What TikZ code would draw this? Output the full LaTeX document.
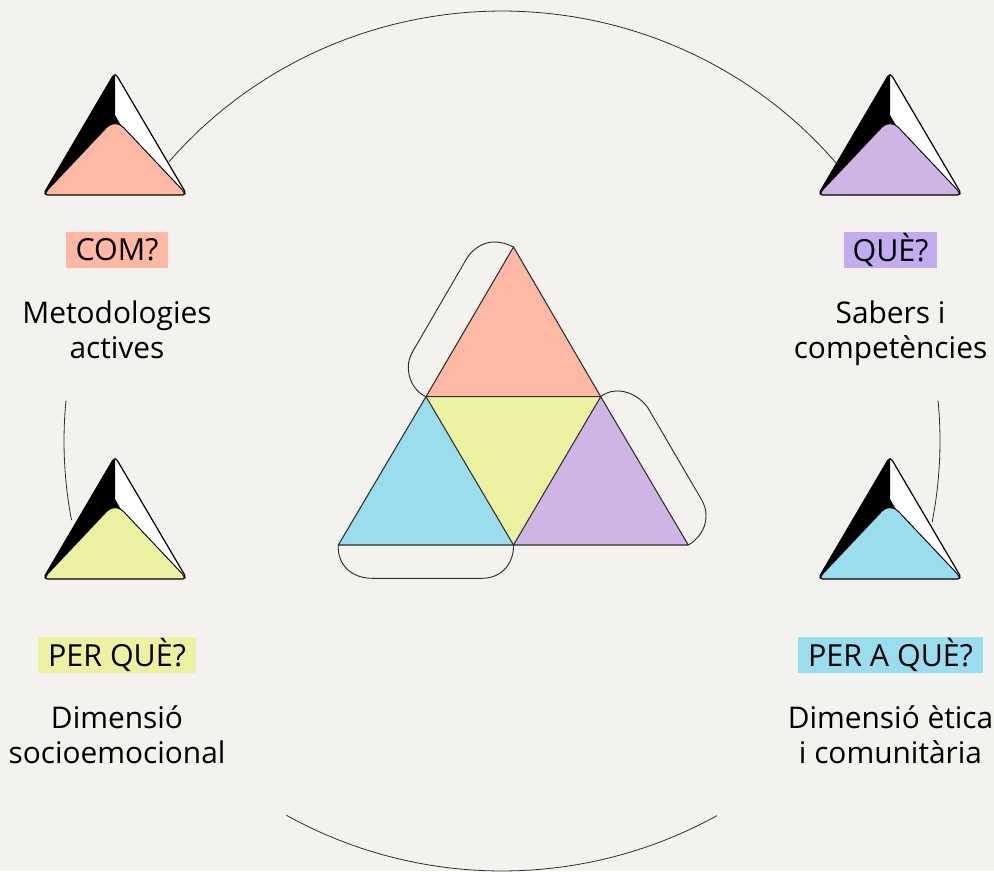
\documentclass[tikz,border=0pt]{standalone}
\usepackage{fontspec}
\setmainfont{Open Sans}
\definecolor{bg}{HTML}{F3F2EE}
\definecolor{salmon}{HTML}{FFB8A3}
\definecolor{lilac}{HTML}{CFB5E5}
\definecolor{lilacb}{HTML}{C3ABEF}
\definecolor{lemon}{HTML}{EDF2A3}
\definecolor{sky}{HTML}{9ADDEE}
\definecolor{ink}{HTML}{2E2E2E}
\tikzset{
  ring/.style={draw=ink,line width=0.6pt},
  face/.style={draw=ink,line width=0.8pt,line join=round},
  flap/.style={draw=ink,line width=0.7pt},
  tag/.style={inner sep=0pt,minimum height=27pt,text=black,font=\fontsize{22.8}{26}\selectfont,anchor=center},
  caption/.style={align=center,text=black,font=\fontsize{22.4}{26.2}\selectfont,anchor=center,inner sep=0pt},
  pics/facet/.style={code={
    \begin{scope}
    \clip[rounded corners=3.5pt] (0,-1.5) -- (72,121) -- (-72,121) -- cycle;
    \fill[white] (-80,-5) rectangle (80,125);
    \fill[black] (0,-5) -- (-80,125) -- (-72,122) -- (8,55) -- (0,41) -- cycle;
    \fill[#1,draw=black,line width=0.7pt,rounded corners=9pt] (-75,124) -- (0,44.5) -- (75,124) -- cycle;
    \end{scope}
    \draw[black,line width=0.9pt,rounded corners=3.5pt] (0,-1.5) -- (72,121) -- (-72,121) -- cycle;
  }}
}
\begin{document}
\begin{tikzpicture}[x=0.75pt,y=-0.75pt]
\path[fill=bg,use as bounding box] (0,0) rectangle (994,871);
% ring arcs
\draw[ring] plot[domain=139.5:40.3,samples=60] ({502+438*cos(\x)},{441-430*sin(\x)});
\draw[ring] plot[domain=174.6:190.6,samples=20] ({502+438*cos(\x)},{441-430*sin(\x)});
\draw[ring] plot[domain=5.4:-10.9,samples=20] ({502+438*cos(\x)},{441-430*sin(\x)});
\draw[ring] plot[domain=240.5:299.4,samples=40] ({502+438*cos(\x)},{441-430*sin(\x)});
% small pyramids
\pic (pa) at (115,74) {facet=salmon};
\pic (pb) at (890,74) {facet=lilac};
\pic (pc) at (115,458) {facet=lemon};
\pic (pd) at (890,458) {facet=sky};
% net
\coordinate (A) at (513.5,247);
\coordinate (B) at (426,396.7);
\coordinate (C) at (600.7,396.7);
\coordinate (D) at (338.3,545);
\coordinate (E) at (513.5,545);
\coordinate (F) at (688.3,545);
\fill[salmon] (A) -- (B) -- (C) -- cycle;
\fill[sky] (B) -- (D) -- (E) -- cycle;
\fill[lemon] (B) -- (C) -- (E) -- cycle;
\fill[lilac] (C) -- (E) -- (F) -- cycle;
\draw[face] (A) -- (B) -- (C) -- cycle;
\draw[face] (B) -- (D) -- (E) -- cycle;
\draw[face] (C) -- (E) -- (F) -- cycle;
\draw[flap] (A) .. controls (507,244) and (502,242) .. (494,242) .. controls (482,242) and (472,250) .. (467,258)
  -- (413,351) .. controls (408,360) and (408,366) .. (408.5,370) .. controls (409,382) and (417,393) .. (B);
\draw[flap] (C) .. controls (608,391) and (615,391) .. (618,391) .. controls (630,391) and (642,399) .. (648,408)
  -- (700,497) .. controls (705,505) and (706,510) .. (706,516) .. controls (706,530) and (697,540) .. (F);
\draw[flap] (D) .. controls (337,565) and (352,578.3) .. (372,578.3) -- (482,578.3) .. controls (502,578.3) and (514,563) .. (E);
% labels
\node[tag,fill=salmon,minimum width=76.5pt] (t1) at (117,250) {COM?};
\node[tag,fill=lilacb,minimum width=70pt] (t2) at (890.5,250) {QUÈ?};
\node[tag,fill=lemon,minimum width=118.5pt] (t3) at (117,655) {PER QUÈ?};
\node[tag,fill=sky,minimum width=138.5pt] (t4) at (890.5,655) {PER A QUÈ?};
\node[caption] (c1) at (117,334) {\strut Metodologies\\\strut actives};
\node[caption] (c2) at (890.5,334) {\strut Sabers i\\\strut competències};
\node[caption] (c3) at (117,739) {\strut Dimensió\\\strut socioemocional};
\node[caption] (c4) at (890.5,739) {\strut Dimensió ètica\\\strut i comunitària};
\end{tikzpicture}
\end{document}
